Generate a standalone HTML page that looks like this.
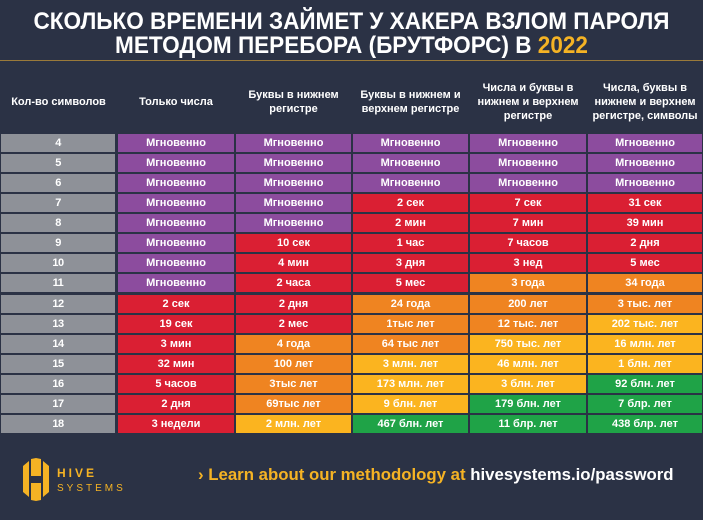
<!DOCTYPE html>
<html><head><meta charset="utf-8">
<style>
body{margin:0;width:703px;height:520px;background:#2b3245;font-family:"Liberation Sans",sans-serif;overflow:hidden;position:relative}
#title{position:absolute;left:-20px;top:10px;width:743px;text-align:center;color:#fff;font-weight:bold;font-size:24.5px;line-height:24px;transform:scaleX(0.92);}
#title span{color:#f5b324}
#gold{position:absolute;left:0;top:60px;width:703px;height:1px;background:#9a7a3a}
.h{position:absolute;top:66px;height:71px;display:flex;align-items:center;justify-content:center;text-align:center;color:#fff;font-weight:bold;font-size:11px;line-height:14px}
.c{position:absolute;height:18px;line-height:18px;text-align:center;color:#fff;font-weight:bold;font-size:11px}
.n{letter-spacing:-0.5px}
#footer-text{position:absolute;left:198px;top:465px;font-size:16.8px;font-weight:bold;color:#f5b324;white-space:nowrap}
#footer-text b{color:#fff}
</style></head><body>
<div id="title">СКОЛЬКО ВРЕМЕНИ ЗАЙМЕТ У ХАКЕРА ВЗЛОМ ПАРОЛЯ<br>МЕТОДОМ ПЕРЕБОРА (БРУТФОРС) В <span>2022</span></div>
<div id="gold"></div>
<div id="table"></div>
<svg style="position:absolute;left:20px;top:458px" width="32" height="44">
<path d="M3 8 L9 3 L9 39 L3 34 Z M23 3 L29 8 L29 34 L23 39 Z M11 1 L16 0 L21 1 L21 18 L11 18 Z M11 25 L21 25 L21 42 L16 43 L11 42 Z" fill="#f5b324"/>
</svg>
<div style="position:absolute;left:57px;top:466px;color:#f5b324;font-size:12px;letter-spacing:3px;line-height:14px;font-weight:bold">HIVE<br><span style="font-weight:normal;font-size:10px">SYSTEMS</span></div>
<div id="footer-text">› Learn about our methodology at <b>hivesystems.io/password</b></div>
<script>
const headers=["Кол-во символов","Только числа","Буквы в нижнем<br>регистре","Буквы в нижнем и<br>верхнем регистре","Числа и буквы в<br>нижнем и верхнем<br>регистре","Числа, буквы в<br>нижнем и верхнем<br>регистре, символы"];
const lengths=[4,5,6,7,8,9,10,11,12,13,14,15,16,17,18];
const M="Мгновенно";
const col1=[M,M,M,M,M,M,M,M,"2 сек","19 сек","3 мин","32 мин","5 часов","2 дня","3 недели"];
const col2=[M,M,M,M,M,"10 сек","4 мин","2 часа","2 дня","2 мес","4 года","100 лет","3тыс лет","69тыс лет","2 млн. лет"];
const col3=[M,M,M,"2 сек","2 мин","1 час","3 дня","5 мес","24 года","1тыс лет","64 тыс лет","3 млн. лет","173 млн. лет","9 блн. лет","467 блн. лет"];
const col4=[M,M,M,"7 сек","7 мин","7 часов","3 нед","3 года","200 лет","12 тыс. лет","750 тыс. лет","46 млн. лет","3 блн. лет","179 блн. лет","11 блр. лет"];
const col5=[M,M,M,"31 сек","39 мин","2 дня","5 мес","34 года","3 тыс. лет","202 тыс. лет","16 млн. лет","1 блн. лет","92 блн. лет","7 блр. лет","438 блр. лет"];
const colors=["PPPPP","PPPPP","PPPPP","PPRRR","PPRRR","PRRRR","PRRRR","PRROO","RROOO","RROOY","ROOYY","ROYYY","ROYYG","ROYGG","RYGGG"];
const pal={P:"#8c4c9e",R:"#da1f33",O:"#ef8421",Y:"#fbb41f",G:"#1fa347"};
const cols=[col1,col2,col3,col4,col5];
const xs=[0,117,235,352,469,587,703];
const T=document.getElementById('table');
headers.forEach((h,i)=>{const d=document.createElement('div');d.className='h';


d.style.left=xs[i]+'px';d.style.width=(xs[i+1]-xs[i])+'px';d.innerHTML=h;T.appendChild(d);});
lengths.forEach((n,r)=>{const y=134+r*20.07;
const g=document.createElement('div');g.className='c n';


g.style.cssText=`left:1px;width:${xs[1]-3}px;top:${y}px;background:#8e9198`;g.textContent=String(n);T.appendChild(g);
cols.forEach((c,j)=>{const d=document.createElement('div');d.className='c';


d.style.cssText=`left:${xs[j+1]+1}px;width:${xs[j+2]-xs[j+1]-2}px;top:${y}px;background:${pal[colors[r][j]]}`;d.textContent=c[r];T.appendChild(d);});});
</script>
</body></html>
